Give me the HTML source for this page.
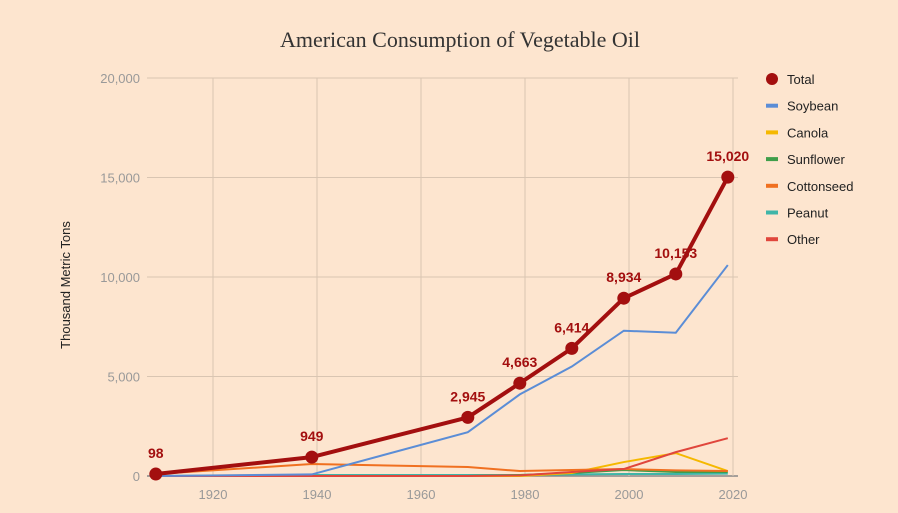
<!DOCTYPE html>
<html><head><meta charset="utf-8"><style>
body{margin:0;background:#fde5cf;}
svg{display:block;font-family:"Liberation Sans",sans-serif;}
</style></head><body>
<svg id="c" width="898" height="513">
<rect width="898" height="513" fill="#fde5cf"/>
<text x="460" y="47" text-anchor="middle" font-family="Liberation Serif,serif" font-size="22" fill="#333">American Consumption of Vegetable Oil</text>
<text transform="translate(70,285) rotate(-90)" text-anchor="middle" font-size="13" fill="#222">Thousand Metric Tons</text>
<g id="grid"></g><g id="series"></g><g id="legend"></g>
</svg>
<script>
const years=[1909,1939,1969,1979,1989,1999,2009,2019];
const total=[98,949,2945,4663,6414,8934,10153,15020];
const soybean=[0,80,2200,4100,5500,7300,7200,10600];
const canola=[0,0,0,0,150,700,1150,250];
const sunflower=[0,0,0,50,150,300,200,200];
const cottonseed=[100,600,450,250,300,350,280,250];
const peanut=[0,50,50,50,80,100,100,120];
const other=[0,0,0,30,200,350,1200,1900];
const yTicks=[0,5000,10000,15000,20000];
const xTicks=[1920,1940,1960,1980,2000,2020];
const NS='http://www.w3.org/2000/svg';
const X=y=>213+(y-1920)*5.2, Y=v=>476-v*(398/20000);
function mk(t,a,p){const e=document.createElementNS(NS,t);for(const k in a)e.setAttribute(k,a[k]);p.appendChild(e);return e;}
const g=document.getElementById('grid'),s=document.getElementById('series'),lg=document.getElementById('legend');
yTicks.forEach(v=>{const l=mk('line',{x1:147,x2:738,y1:Y(v),y2:Y(v),stroke:v?'#d9c5b2':'#888','stroke-width':v?1:1.5},g);

const t=mk('text',{x:140,y:Y(v)+5,'text-anchor':'end','font-size':13,fill:'#999'},g);t.textContent=v.toLocaleString('en-US');
});
xTicks.forEach(v=>{const l=mk('line',{x1:X(v),x2:X(v),y1:78,y2:476,stroke:'#d9c5b2'},g);

const t=mk('text',{x:X(v),y:499,'text-anchor':'middle','font-size':13,fill:'#999'},g);t.textContent=v;
});
const ser=[['peanut',peanut,'#3fb5a8'],['sunflower',sunflower,'#3f9e4a'],['canola',canola,'#f5b800'],['cottonseed',cottonseed,'#f07020'],['other',other,'#e0463c'],['soybean',soybean,'#5b8dd6']];
ser.forEach(([n,d,c])=>{const p=mk('polyline',{points:d.map((v,i)=>X(years[i])+','+Y(v)).join(' '),fill:'none',stroke:c,'stroke-width':2},s);
});
const tp=mk('polyline',{points:total.map((v,i)=>X(years[i])+','+Y(v)).join(' '),fill:'none',stroke:'#a30f0f','stroke-width':4,'stroke-linejoin':'round'},s);

total.forEach((v,i)=>{const c=mk('circle',{cx:X(years[i]),cy:Y(v),r:6.5,fill:'#a30f0f'},s);

const t=mk('text',{x:X(years[i]),y:Y(v)-16,'text-anchor':'middle','font-size':14,'font-weight':'bold',fill:'#a30f0f'},s);t.textContent=v.toLocaleString('en-US');
});
const leg=[['Total','#a30f0f'],['Soybean','#5b8dd6'],['Canola','#f5b800'],['Sunflower','#3f9e4a'],['Cottonseed','#f07020'],['Peanut','#3fb5a8'],['Other','#e0463c']];
leg.forEach(([n,c],i)=>{const y=79+i*26.7;
const m=i?mk('rect',{x:766,y:y-2,width:12,height:4,fill:c},lg):mk('circle',{cx:772,cy:y,r:6,fill:c},lg);

const t=mk('text',{x:787,y:y+5,'font-size':13,fill:'#222'},lg);t.textContent=n;
});
</script>
</body></html>
